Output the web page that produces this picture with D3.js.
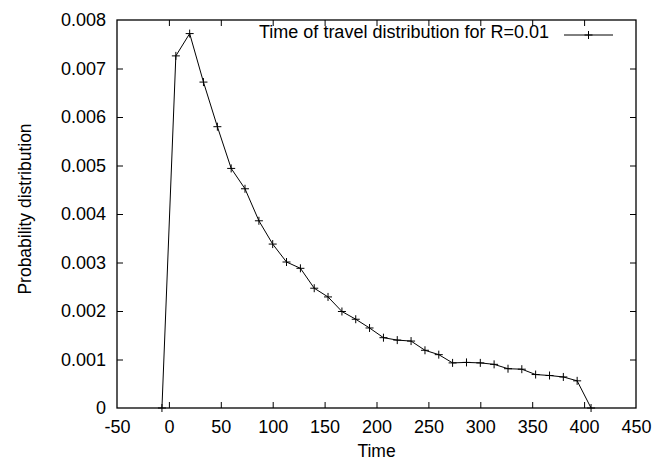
<!DOCTYPE html>
<html>
<head>
<meta charset="utf-8">
<script src="https://cdn.jsdelivr.net/npm/d3@7"></script>
<style>
  body { margin: 0; background: #fff; }
  svg text { font-family: "Liberation Sans", Arial, sans-serif; fill: #000; }
</style>
</head>
<body>
<div id="chart"></div>
<script>
// time values (x) and probability values (y)
const times = [-6.7, 6.7, 20, 33.3, 46.7, 60, 73.3, 86.7, 100, 113.3, 126.7, 140, 153.3, 166.7,
  180, 193.3, 206.7, 220, 233.3, 246.7, 260, 273.3, 286.7, 300, 313.3, 326.7, 340, 353.3,
  366.7, 380, 393.3, 406.7];
const probs = [0, 0.00726, 0.00772, 0.00672, 0.0058, 0.00494, 0.00452, 0.00386, 0.00338, 0.00301,
  0.00288, 0.00247, 0.00229, 0.00199, 0.00183, 0.00165, 0.00145, 0.00140, 0.00138, 0.00119,
  0.00110, 0.00093, 0.00094, 0.00093, 0.00090, 0.00081, 0.00080, 0.00069, 0.00067, 0.00064,
  0.00056, 0];
const xTicks = [-50, 0, 50, 100, 150, 200, 250, 300, 350, 400, 450];
const yTicks = [0, 0.001, 0.002, 0.003, 0.004, 0.005, 0.006, 0.007, 0.008];
const seriesLabel = 'Time of travel distribution for R=0.01';

const width = 655, height = 462;
const margin = { left: 117, right: 19, top: 20, bottom: 54 };
const fontSize = 18;

const svg = d3.select('#chart').append('svg')
  .attr('width', width)
  .attr('height', height);

const x = d3.scaleLinear().domain([-50, 450]).range([margin.left, width - margin.right]);
const y = d3.scaleLinear().domain([0, 0.008]).range([height - margin.bottom, margin.top]);

const fmtY = d => d === 0 ? '0' : d3.format('.3f')(d);

// 坐标轴 (ticks pointing inward, like gnuplot)
const tickLen = 6;
const axes = svg.append('g');

const axBottom = axes.append('g')
  .attr('transform', `translate(0,${y(0)})`)
  .call(d3.axisBottom(x).tickValues(xTicks).tickSize(-tickLen).tickPadding(12).tickFormat(d => String(d)));
const axTop = axes.append('g')
  .attr('transform', `translate(0,${y(0.008)})`)
  .call(d3.axisTop(x).tickValues(xTicks).tickSize(-tickLen).tickFormat(''));
const axLeft = axes.append('g')
  .attr('transform', `translate(${x(-50)},0)`)
  .call(d3.axisLeft(y).tickValues(yTicks).tickSize(-tickLen).tickPadding(11).tickFormat(fmtY));
const axRight = axes.append('g')
  .attr('transform', `translate(${x(450)},0)`)
  .call(d3.axisRight(y).tickValues(yTicks).tickSize(-tickLen).tickFormat(''));

[axBottom, axTop, axLeft, axRight].forEach(g => {
  g.select('.domain').remove();
  g.selectAll('line').attr('stroke', '#000').attr('stroke-width', 1);
  g.selectAll('text').attr('font-size', fontSize).attr('font-family', '"Liberation Sans", Arial, sans-serif');
});
// skip the ticks at the frame corners
axBottom.selectAll('.tick').filter(d => d === -50 || d === 450).select('line').remove();
axTop.selectAll('.tick').filter(d => d === -50 || d === 450).select('line').remove();
axLeft.selectAll('.tick').filter(d => d === 0 || d === 0.008).select('line').remove();
axRight.selectAll('.tick').filter(d => d === 0 || d === 0.008).select('line').remove();

// 边框
svg.append('rect')
  .attr('x', x(-50)).attr('y', y(0.008))
  .attr('width', x(450) - x(-50)).attr('height', y(0) - y(0.008))
  .attr('fill', 'none').attr('stroke', '#000').attr('stroke-width', 1.3);

// 轴标题
svg.append('text')
  .attr('x', (x(-50) + x(450)) / 2).attr('y', 457)
  .attr('text-anchor', 'middle').attr('font-size', 17.5)
  .text('Time');
svg.append('text')
  .attr('transform', `translate(31,209) rotate(-90)`)
  .attr('text-anchor', 'middle').attr('font-size', 17.5)
  .text('Probability distribution');

// 数据线
const pts = times.map((t, i) => [t, probs[i]]);
const line = d3.line().x(d => x(d[0])).y(d => y(d[1]));
svg.append('path')
  .datum(pts)
  .attr('d', line)
  .attr('fill', 'none')
  .attr('stroke', '#000')
  .attr('stroke-width', 1);

// "+" markers
const m = 4;
const plus = (cx, cy) => `M${cx - m},${cy}H${cx + m}M${cx},${cy - m}V${cy + m}`;
svg.append('g')
  .selectAll('path')
  .data(pts)
  .enter()
  .append('path')
  .attr('d', d => plus(x(d[0]), y(d[1])))
  .attr('stroke', '#000')
  .attr('stroke-width', 1);

// 图例
const lx1 = 564, lx2 = 613, ly = 35;
svg.append('text')
  .attr('x', 549).attr('y', 37.5)
  .attr('text-anchor', 'end').attr('font-size', fontSize)
  .text(seriesLabel);
svg.append('line')
  .attr('x1', lx1).attr('x2', lx2).attr('y1', ly).attr('y2', ly)
  .attr('stroke', '#000').attr('stroke-width', 1);
svg.append('path')
  .attr('d', plus((lx1 + lx2) / 2, ly))
  .attr('stroke', '#000').attr('stroke-width', 1);
</script>
</body>
</html>
